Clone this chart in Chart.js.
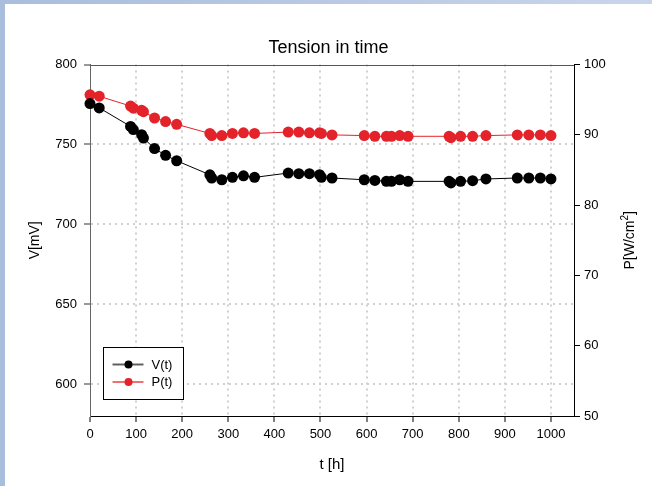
<!DOCTYPE html>
<html><head><meta charset="utf-8">
<script src="https://cdn.jsdelivr.net/npm/chart.js@4.4.0/dist/chart.umd.min.js"></script>
<style>
html,body{margin:0;padding:0;background:#fff;}
#wrap{position:relative;width:652px;height:486px;background:linear-gradient(90deg,#a9bddd,#c9d5ea);overflow:hidden;}
#inner{position:absolute;left:5px;top:4px;width:647px;height:482px;background:#fff;}
canvas{display:block}
</style></head><body>
<div id="wrap"><div id="inner"><canvas id="c" width="647" height="482"></canvas></div></div>
<script>
const tHours = [0,20,88,94,112,116,140,164,188,260,264,286,309,333,357,430,453,476,498,502,525,595,618,643,654,672,690,779,783,804,830,859,927,952,977,1000];
const voltage = [775.6,772.9,761.3,759.3,756.1,754.0,747.4,743.2,739.8,731.0,729.0,727.9,729.4,730.4,729.4,732.1,731.7,731.7,731.1,729.4,729.0,727.9,727.5,726.9,726.9,727.9,726.9,726.9,725.9,726.9,727.3,728.4,729.0,729.0,729.0,728.4];
const power = [95.7,95.5,94.1,93.8,93.5,93.3,92.4,91.9,91.5,90.2,89.9,89.9,90.2,90.3,90.2,90.4,90.4,90.3,90.3,90.2,90.0,89.9,89.8,89.8,89.8,89.9,89.8,89.8,89.6,89.8,89.8,89.9,90.0,90.0,90.0,89.9];
const xTicks = [0,100,200,300,400,500,600,700,800,900,1000];
const vTicks = [600,650,700,750,800];
const pTicks = [50,60,70,80,90,100];
const seriesNames = ['V(t)','P(t)'];
const chartTitle = 'Tension in time';
const xTitle = 't [h]';
const vTitle = 'V[mV]';
const pTitleParts = ['P[W/cm', '2', ']'];

const FONT = '"Liberation Sans", Arial, sans-serif';
const RED = '#e3222a';
const GRID = '#d0d0d0';

function pts(ys){ return tHours.map((t,i)=>({x:t,y:ys[i]})); }

const frameAndLegend = {
  id:'frameAndLegend',
  beforeDatasetsDraw(chart){
    const {ctx, chartArea:a} = chart;
    ctx.save();
    ctx.strokeStyle = '#555';
    ctx.lineWidth = 1;
    const y = Math.round(a.top)+0.5;
    ctx.beginPath(); ctx.moveTo(a.left, y); ctx.lineTo(a.right, y); ctx.stroke();
    ctx.restore();
  },
  afterDatasetsDraw(chart){
    const {ctx, chartArea:a} = chart;
    ctx.save();
    const bx = Math.round(a.left + 13)+0.5, by = Math.round(a.top + 282)+0.5, bw = 80, bh = 52;
    ctx.fillStyle = '#fff';
    ctx.fillRect(bx, by, bw, bh);
    ctx.strokeStyle = '#000'; ctx.lineWidth = 1;
    ctx.strokeRect(bx, by, bw, bh);
    const rows = [17, 34.5];
    const lineCols = ['#606060', '#ef7070'];
    chart.data.datasets.forEach((ds, i) => {
      const ry = by + rows[i];
      ctx.strokeStyle = lineCols[i]; ctx.lineWidth = 2;
      ctx.beginPath(); ctx.moveTo(bx + 9, ry); ctx.lineTo(bx + 40, ry); ctx.stroke();
      ctx.fillStyle = ds.pointBackgroundColor;
      ctx.beginPath(); ctx.arc(bx + 25, ry, 4, 0, Math.PI*2); ctx.fill();
      ctx.fillStyle = '#000';
      ctx.font = '13px ' + FONT;
      ctx.textBaseline = 'middle'; ctx.textAlign = 'left';
      ctx.fillText(ds.label, bx + 48, ry + 0.5);
    });
    ctx.translate(625, (a.top + a.bottom)/2);
    ctx.rotate(-Math.PI/2);
    ctx.fillStyle = '#000';
    ctx.textBaseline = 'middle'; ctx.textAlign = 'left';
    const big = '14px ' + FONT, small = '10px ' + FONT;
    ctx.font = big; const w0 = ctx.measureText(pTitleParts[0]).width; const w2 = ctx.measureText(pTitleParts[2]).width;
    ctx.font = small; const w1 = ctx.measureText(pTitleParts[1]).width;
    let x = -(w0 + w1 + w2)/2;
    ctx.font = big; ctx.fillText(pTitleParts[0], x, 0); x += w0;
    ctx.font = small; ctx.fillText(pTitleParts[1], x, -5); x += w1;
    ctx.font = big; ctx.fillText(pTitleParts[2], x, 0);
    ctx.restore();
  }
};

new Chart(document.getElementById('c'), {
  type:'line',
  data:{
    datasets:[
      {label:seriesNames[0], data:pts(voltage), yAxisID:'y', borderColor:'#000', backgroundColor:'#000',
       pointBackgroundColor:'#000', pointBorderWidth:0, pointRadius:5.5, pointHoverRadius:5.5, borderWidth:1, clip:false},
      {label:seriesNames[1], data:pts(power), yAxisID:'y1', borderColor:RED, backgroundColor:RED,
       pointBackgroundColor:RED, pointBorderWidth:0, pointRadius:5.5, pointHoverRadius:5.5, borderWidth:1, clip:false}
    ]
  },
  options:{
    responsive:false, animation:false, events:[],
    layout:{padding:0},
    plugins:{
      legend:{display:false}, tooltip:{enabled:false},
      title:{display:true, text:chartTitle, color:'#000', font:{family:FONT, size:18, weight:'normal'}, padding:{top:33, bottom:6}}
    },
    scales:{
      x:{type:'linear', min:0, max:1050,
        afterBuildTicks(s){ s.ticks = xTicks.map(v=>({value:v})); },
        afterFit(s){ s.height = 70; },
        ticks:{color:'#000', font:{family:FONT, size:13}, padding:5, maxRotation:0, autoSkip:false, callback:v=>String(v)},
        grid:{color:c=> (c.tick && c.tick.value===0) ? 'rgba(0,0,0,0)' : GRID, lineWidth:2, tickColor:'#000', tickLength:6, tickWidth:1, tickBorderDash:[]},
        border:{color:'#000', width:1, dash:[2,4]},
        title:{display:true, text:xTitle, color:'#000', font:{family:FONT, size:15}, padding:{top:0, bottom:12}}
      },
      y:{type:'linear', position:'left', min:580, max:800,
        afterBuildTicks(s){ s.ticks = vTicks.map(v=>({value:v})); },
        afterFit(s){ s.width = 85; },
        ticks:{color:'#000', font:{family:FONT, size:13}, padding:7, callback:v=>String(v)},
        grid:{color:c=> (c.tick && c.tick.value===800) ? 'rgba(0,0,0,0)' : GRID, lineWidth:2, tickColor:'#333', tickLength:6, tickWidth:1, tickBorderDash:[]},
        border:{color:'#666', width:1, dash:[2,4]},
        title:{display:true, text:vTitle, color:'#000', font:{family:FONT, size:14}, padding:{top:22, bottom:0}}
      },
      y1:{type:'linear', position:'right', min:50, max:100,
        afterBuildTicks(s){ s.ticks = pTicks.map(v=>({value:v})); },
        afterFit(s){ s.width = 78; },
        ticks:{color:'#000', font:{family:FONT, size:13}, padding:4, callback:v=>String(v)},
        grid:{drawOnChartArea:false, tickColor:'#000', tickLength:6, tickWidth:1},
        border:{color:'#000', width:1}
      }
    }
  },
  plugins:[frameAndLegend]
});
</script>
</body></html>
